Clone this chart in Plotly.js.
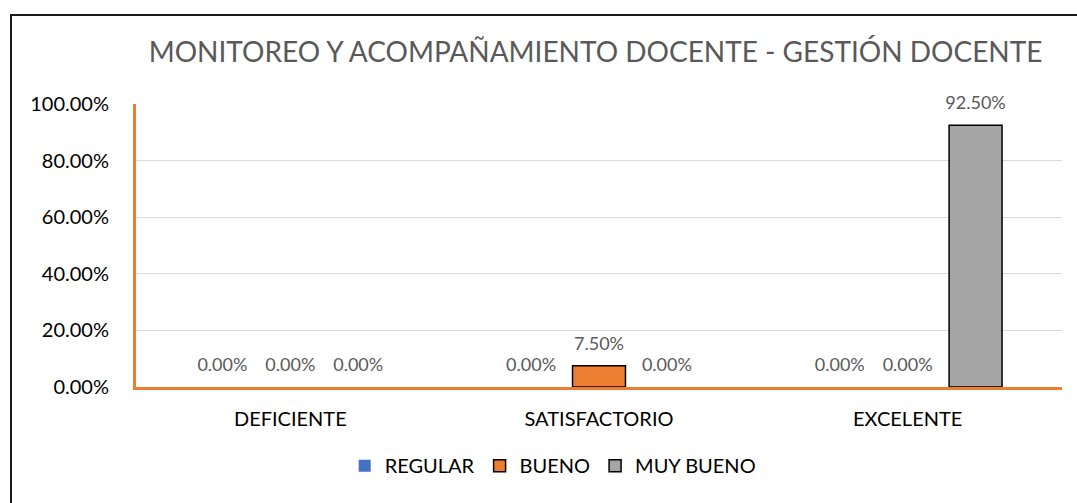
<!DOCTYPE html>
<html>
<head>
<meta charset="utf-8">
<script src="https://cdn.plot.ly/plotly-3.0.1.min.js"></script>
<style>
  html, body { margin: 0; padding: 0; background: #fff; }
  #wrap { position: relative; width: 1077px; height: 503px; overflow: hidden; }
  #chart { position: absolute; left: 0; top: 0; width: 1077px; height: 503px; }
  #frame { position: absolute; left: 10px; top: 14px; width: 1080px; height: 500px; border: 2px solid #1a1a1a; pointer-events: none; }
</style>
</head>
<body>
<div id="wrap">
  <div id="chart"></div>
  <div id="frame"></div>
</div>
<script>
const categories = ["DEFICIENTE", "SATISFACTORIO", "EXCELENTE"];
const seriesNames = ["REGULAR", "BUENO", "MUY BUENO"];
const regular = [0.0, 0.0, 0.0];
const bueno = [0.0, 0.075, 0.0];
const muyBueno = [0.0, 0.0, 0.925];
const yTickVals = [0, 0.2, 0.4, 0.6, 0.8, 1.0];
const titleText = "MONITOREO Y ACOMPAÑAMIENTO DOCENTE - GESTIÓN DOCENTE";

const colors = ["#4472C4", "#ED7D31", "#A5A5A5"];
const lineW = [0, 1.5, 1.5];
const values = [regular, bueno, muyBueno];
const FONT = "Lato, 'Open Sans', sans-serif";

const barTraces = values.map((v, i) => ({
  type: "bar",
  name: seriesNames[i],
  legendgroup: seriesNames[i],
  showlegend: false,
  x: categories,
  y: v,
  offsetgroup: String(i),
  marker: { color: colors[i], line: { color: "#000", width: v.map(d => d > 0 ? lineW[i] : 0) } },
  hoverinfo: "skip"
}));

const legendTraces = seriesNames.map((n, i) => ({
  type: "bar",
  name: n,
  legendgroup: n,
  showlegend: true,
  x: [categories[0]],
  y: [null],
  offsetgroup: String(i),
  marker: { color: colors[i], line: { color: "#000", width: lineW[i] } },
  hoverinfo: "skip"
}));

const labelTraces = values.map((v, i) => ({
  type: "scatter",
  mode: "markers+text",
  name: seriesNames[i],
  showlegend: false,
  x: categories,
  y: v,
  offsetgroup: String(i),
  marker: { size: 17, opacity: 0, color: colors[i] },
  text: v.map(d => (d * 100).toFixed(2) + "%"),
  textposition: "top center",
  textfont: { color: "#595959", size: 18, family: FONT },
  cliponaxis: false,
  hoverinfo: "skip"
}));

const layout = {
  width: 1077, height: 503,
  margin: { l: 136, r: 15, t: 104, b: 116 },
  paper_bgcolor: "#fff", plot_bgcolor: "#fff",
  barmode: "group", bargap: 0.34, bargroupgap: 0.22,
  scattermode: "group", scattergap: 0.34,
  font: { family: FONT, color: "#000", size: 20 },
  title: { text: titleText, x: 0.553, xref: "container", xanchor: "center",
           y: 0.897, yref: "container", yanchor: "middle",
           font: { size: 28, color: "#595959", family: FONT } },
  xaxis: { showline: true, linecolor: "#ED7D31", linewidth: 3, ticks: "",
           tickfont: { size: 20, color: "#000" }, ticklabelstandoff: 12,
           showgrid: false, zeroline: false },
  yaxis: { range: [0, 1], tickvals: yTickVals, tickformat: ".2%",
           showline: true, linecolor: "#ED7D31", linewidth: 3, ticks: "",
           gridcolor: "#D9D9D9", gridwidth: 1, zeroline: false,
           tickfont: { size: 20, color: "#000" }, ticklabelstandoff: 20 },
  showlegend: true,
  legend: { orientation: "h", x: 0.45, xanchor: "center", y: -0.278, yanchor: "middle",
            font: { size: 20, color: "#000" }, itemwidth: 30, traceorder: "normal" }
};

Plotly.newPlot("chart", barTraces.concat(legendTraces, labelTraces), layout, { displayModeBar: false, staticPlot: true });
</script>
</body>
</html>
